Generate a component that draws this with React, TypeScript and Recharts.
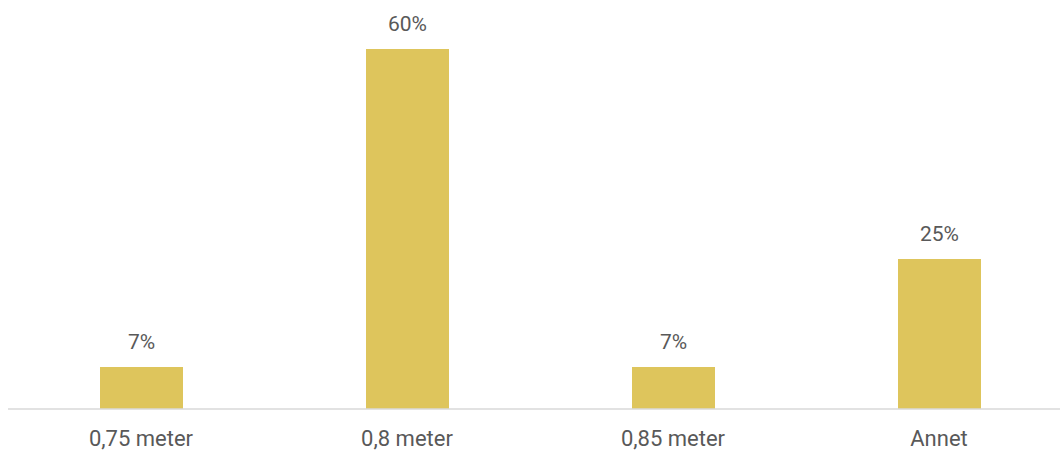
import { BarChart, Bar, XAxis, YAxis, LabelList } from "recharts";

// Share of answers per width
const categories = ["0,75 meter", "0,8 meter", "0,85 meter", "Annet"];
const shares = [7, 60, 7, 25];

const data = categories.map((name, i) => ({ name, value: shares[i] }));

const FONT = "Roboto, 'Open Sans', sans-serif";
const TEXT = "#595959";

export default function App() {
  return (
    <div
      style={{
        position: "absolute",
        left: 0,
        top: 0,
        width: 1060,
        height: 450,
        overflow: "hidden",
        background: "#fff",
      }}
    >
      <BarChart
        width={1072}
        height={450}
        data={data}
        margin={{ top: 49, right: 0, left: 8, bottom: 11 }}
      >
        <XAxis
          dataKey="name"
          height={30}
          axisLine={{ stroke: "#d9d9d9", strokeWidth: 1.5 }}
          tickLine={false}
          tickMargin={15}
          tick={{ fill: TEXT, fontSize: 22, fontFamily: FONT }}
        />
        <YAxis hide domain={[0, 60]} />
        <Bar dataKey="value" fill="#dec55c" barSize={83} isAnimationActive={false}>
          <LabelList
            dataKey="value"
            position="top"
            offset={18}
            formatter={(v: number) => `${v}%`}
            style={{ fill: TEXT, fontSize: 21, fontFamily: FONT }}
          />
        </Bar>
      </BarChart>
    </div>
  );
}
